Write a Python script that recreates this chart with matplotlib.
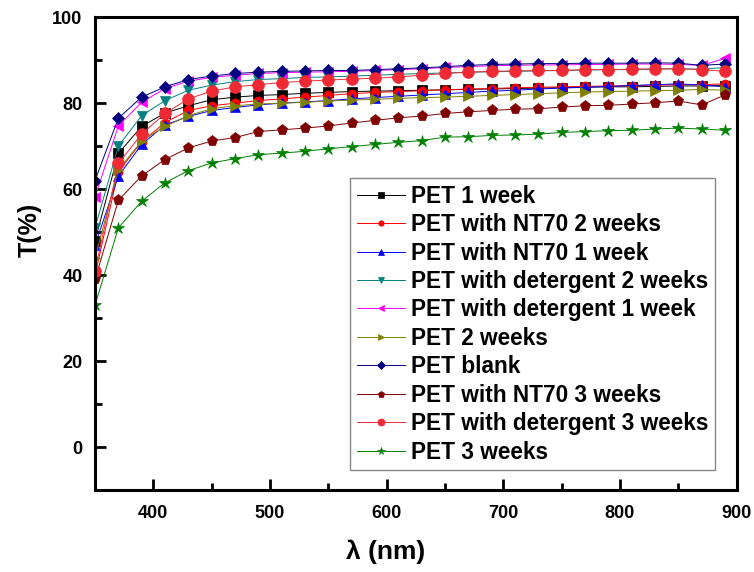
import numpy as np
import matplotlib
matplotlib.use("Agg")
import matplotlib.pyplot as plt
from matplotlib.ticker import MultipleLocator

#### DATA ####
wavelength = [350, 370, 390, 410, 430, 450, 470, 490, 510, 530, 550, 570, 590, 610,
              630, 650, 670, 690, 710, 730, 750, 770, 790, 810, 830, 850, 870, 890]

pet_1w = [48.0, 68.3, 74.6, 77.7, 79.4, 80.8, 81.4, 81.8, 82.0, 82.3, 82.5, 82.7, 82.8, 82.9,
          83.0, 83.1, 83.2, 83.3, 83.4, 83.5, 83.6, 83.7, 83.8, 83.8, 83.9, 84.0, 84.0, 84.1]
nt70_2w = [40.0, 64.1, 71.0, 75.5, 78.3, 79.4, 80.0, 80.6, 81.0, 81.4, 81.8, 82.2, 82.5, 82.7,
           82.9, 83.1, 83.3, 83.4, 83.6, 83.7, 83.8, 83.9, 84.0, 84.1, 84.2, 84.3, 84.3, 84.5]
nt70_1w = [47.0, 63.0, 70.4, 74.9, 76.9, 78.3, 79.0, 79.6, 80.0, 80.3, 80.6, 81.0, 81.3, 81.6,
           81.9, 82.2, 82.5, 82.8, 83.0, 83.3, 83.5, 83.7, 83.9, 84.1, 84.3, 84.5, 84.2, 83.8]
det_2w = [51.0, 70.0, 77.1, 80.6, 83.0, 84.2, 85.0, 85.5, 85.7, 86.0, 86.1, 86.3, 86.5, 86.7,
          86.9, 87.0, 87.2, 87.3, 87.4, 87.5, 87.6, 87.7, 87.8, 87.8, 87.9, 88.0, 87.9, 88.3]
det_1w = [58.2, 74.7, 80.2, 83.4, 85.1, 86.0, 86.5, 86.9, 87.1, 87.2, 87.3, 87.4, 87.6, 87.8,
          88.0, 88.3, 88.5, 88.7, 88.8, 88.9, 88.9, 89.0, 89.0, 89.1, 89.1, 89.0, 88.8, 90.4]
pet_2w = [44.0, 64.5, 71.2, 74.6, 77.1, 78.7, 79.4, 79.8, 80.0, 80.2, 80.5, 80.7, 80.9, 81.1,
          81.3, 81.4, 81.6, 81.8, 82.0, 82.2, 82.4, 82.6, 82.7, 82.8, 82.9, 83.0, 83.2, 83.0]
pet_blank = [62.0, 76.5, 81.4, 83.8, 85.5, 86.3, 86.9, 87.2, 87.4, 87.5, 87.6, 87.6, 87.8, 88.0,
             88.2, 88.5, 88.8, 89.0, 89.1, 89.2, 89.2, 89.3, 89.3, 89.3, 89.4, 89.3, 88.8, 89.1]
nt70_3w = [39.0, 57.4, 63.1, 66.9, 69.6, 71.2, 72.0, 73.4, 73.8, 74.2, 74.7, 75.4, 76.0, 76.6,
           77.0, 77.6, 78.0, 78.3, 78.6, 78.7, 79.1, 79.4, 79.5, 79.8, 80.1, 80.5, 79.6, 81.9]
det_3w = [41.0, 66.0, 72.8, 77.6, 81.0, 82.8, 83.8, 84.3, 84.8, 85.1, 85.4, 85.6, 85.8, 86.1,
          86.5, 86.9, 87.2, 87.4, 87.5, 87.6, 87.6, 87.8, 87.8, 87.9, 88.0, 88.0, 87.8, 87.4]
pet_3w = [33.0, 51.0, 57.2, 61.5, 64.3, 66.1, 67.1, 68.0, 68.4, 68.8, 69.4, 69.9, 70.4, 70.9,
          71.3, 72.1, 72.2, 72.5, 72.6, 72.8, 73.2, 73.4, 73.6, 73.7, 74.0, 74.2, 74.0, 73.7]

labels = ["PET 1 week", "PET with NT70 2 weeks", "PET with NT70 1 week",
          "PET with detergent 2 weeks", "PET with detergent 1 week", "PET 2 weeks",
          "PET blank", "PET with NT70 3 weeks", "PET with detergent 3 weeks", "PET 3 weeks"]
series = [pet_1w, nt70_2w, nt70_1w, det_2w, det_1w, pet_2w, pet_blank, nt70_3w, det_3w, pet_3w]

#### STYLE ####
colors = ["#000000", "#ff0000", "#0000ff", "#008080", "#ff00ff",
          "#808000", "#000080", "#800000", "#f02a35", "#008000"]
markers = ["s", "o", "^", "v", "<", ">", "D", "p", "o", "*"]
msizes = [6.5, 6.5, 7.5, 7.5, 7.5, 7.5, 6.5, 8, 8.5, 9]

plt.rcParams['font.family'] = ['Liberation Sans', 'DejaVu Sans']
plt.rcParams['font.weight'] = 'bold'

fig = plt.figure(figsize=(7.54, 5.72), dpi=100)
ax = fig.add_axes([0.126, 0.143, 0.851, 0.827])

for y, lab, c, m, ms in zip(series, labels, colors, markers, msizes):
    ax.plot(wavelength, y, color=c, marker=m, markersize=ms, markeredgecolor=c,
            markeredgewidth=0.5, linewidth=0.7, label=lab)

ax.set_xlim(350, 900)
ax.set_ylim(-10, 100)
ax.xaxis.set_minor_locator(MultipleLocator(50))
ax.yaxis.set_minor_locator(MultipleLocator(10))
ax.set_xticks([400, 500, 600, 700, 800, 900])
ax.set_yticks([0, 20, 40, 60, 80, 100])

ax.tick_params(which='both', direction='in', top=False, right=False, width=2)
ax.tick_params(which='major', length=8, labelsize=13)
ax.tick_params(axis='x', which='major', pad=11)
ax.tick_params(axis='y', which='major', pad=9)
ax.tick_params(which='minor', length=5)
for lbl in ax.get_xticklabels() + ax.get_yticklabels():
    lbl.set_fontweight('bold')
for sp in ax.spines.values():
    sp.set_linewidth(2.2)

ax.set_xlabel("λ (nm)", fontsize=19, fontweight='bold')
ax.xaxis.set_label_coords(0.453, -0.105)
ax.set_ylabel("T(%)", fontsize=18, fontweight='bold')
ax.yaxis.set_label_coords(-0.083, 0.55)

leg = ax.legend(loc='lower right', bbox_to_anchor=(0.967, 0.042), borderaxespad=0,
                markerscale=0.6, handlelength=2.1, handletextpad=0.3,
                labelspacing=0.24, borderpad=0.3, fancybox=False, framealpha=1,
                edgecolor='#888888', prop={'weight': 'bold', 'size': 16.3})
leg.get_frame().set_linewidth(1.0)

fig.savefig("out.png", dpi=100)
